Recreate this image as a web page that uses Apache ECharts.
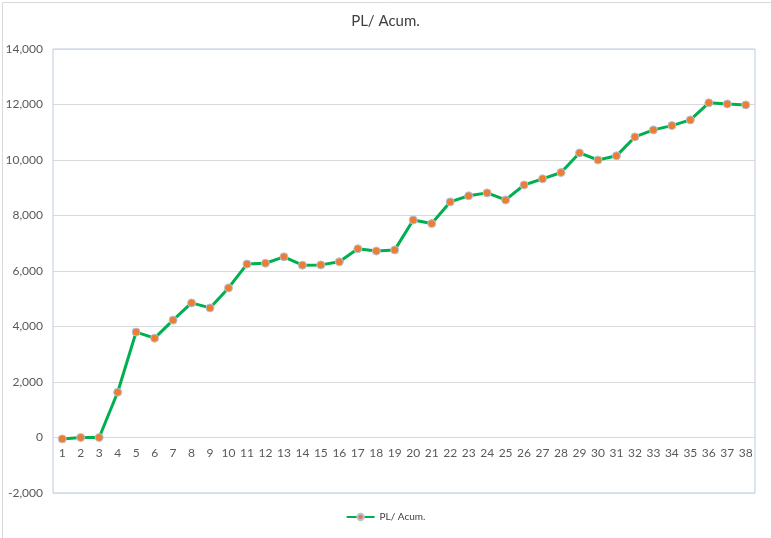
<!DOCTYPE html>
<html>
<head>
<meta charset="utf-8">
<script src="https://cdn.jsdelivr.net/npm/echarts@6/dist/echarts.min.js"></script>
<style>
html,body{margin:0;padding:0;background:#fff;}
#c{width:771px;height:538px;}
</style>
</head>
<body>
<div id="c"></div>
<script>
const titleText = 'PL/ Acum.';
const seriesName = 'PL/ Acum.';
const categories = ['1','2','3','4','5','6','7','8','9','10','11','12','13','14','15','16','17','18','19','20','21','22','23','24','25','26','27','28','29','30','31','32','33','34','35','36','37','38'];
const values = [-50, 0, 0, 1630, 3800, 3580, 4230, 4850, 4670, 5390, 6250, 6280, 6510, 6210, 6220, 6330, 6800, 6720, 6760, 7840, 7710, 8490, 8710, 8815, 8560, 9100, 9320, 9550, 10255, 10000, 10150, 10830, 11085, 11240, 11445, 12060, 12020, 11985];
const yMin = -2000, yMax = 14000, yStep = 2000;

const chart = echarts.init(document.getElementById('c'), null, {renderer: 'canvas'});
const font = 'Lato, "Liberation Sans", sans-serif';
const gridTop = 49, gridBottom = 45, chartH = 538;
const plotH = chartH - gridTop - gridBottom;
// shift the category axis up so it sits on the zero line (Excel style)
const zeroOffset = -plotH * (0 - yMin) / (yMax - yMin);
chart.setOption({
  animation: false,
  backgroundColor: '#fff',
  graphic: [{
    type: 'rect', left: 0, top: 0,
    shape: {x: 0.5, y: 0.5, width: 770, height: 537},
    style: {fill: 'none', stroke: '#d9d9d9', lineWidth: 1}, silent: true, z: -1
  }],
  title: {
    text: titleText, left: 'center', top: 9,
    textStyle: {fontFamily: font, fontSize: 15, fontWeight: 'normal', color: '#404040'}
  },
  legend: {
    bottom: 11, left: 'center', itemWidth: 28, itemHeight: 8,
    textStyle: {fontFamily: font, fontSize: 10, color: '#404040'},
    data: [seriesName]
  },
  grid: {left: 53, right: 16, top: gridTop, bottom: gridBottom, show: true, borderColor: '#bccbe2', borderWidth: 1},
  xAxis: {
    type: 'category', data: categories, boundaryGap: true,
    offset: zeroOffset,
    axisLine: {onZero: false, lineStyle: {color: '#d9d9d9'}},
    axisTick: {show: false},
    axisLabel: {fontFamily: font, fontSize: 12, color: '#595959', margin: 10, interval: 0}
  },
  yAxis: {
    type: 'value', min: yMin, max: yMax, interval: yStep,
    axisLine: {show: false}, axisTick: {show: false},
    splitLine: {lineStyle: {color: '#d9d9d9'}},
    axisLabel: {fontFamily: font, fontSize: 12, color: '#595959', margin: 10,
      formatter: v => v.toLocaleString('en-US')}
  },
  series: [{
    name: seriesName, type: 'line', data: values,
    symbol: 'circle', symbolSize: 8,
    lineStyle: {color: '#00b050', width: 3},
    itemStyle: {color: '#ed7d31', borderColor: '#b4c3dc', borderWidth: 1}
  }]
});
</script>
</body>
</html>
